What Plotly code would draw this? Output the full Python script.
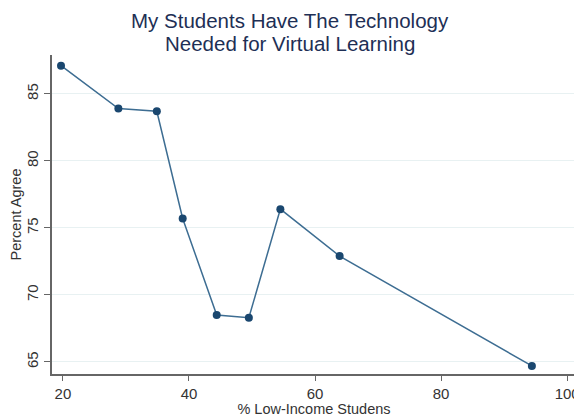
import plotly.graph_objects as go

low_income_pct = [19.7, 28.8, 34.9, 39.0, 44.4, 49.5, 54.5, 63.9, 94.4]
percent_agree = [87.1, 83.9, 83.7, 75.7, 68.5, 68.3, 76.4, 72.9, 64.7]

x_ticks = [20, 40, 60, 80, 100]
y_ticks = [65, 70, 75, 80, 85]

title_lines = ["My Students Have The Technology", "Needed for Virtual Learning"]

fig = go.Figure()
fig.add_trace(go.Scatter(
    x=low_income_pct, y=percent_agree, mode="lines+markers",
    line=dict(color="#3d6d92", width=1.5),
    marker=dict(color="#1a476f", size=8),
    showlegend=False,
))

font = "Liberation Sans, Arial, sans-serif"
W, H = 574, 409
L, R, T, B = 42, 2, 47, 43
pw = W - L - R
title_x = (283 - L) / pw

fig.update_layout(
    width=W, height=H,
    margin=dict(l=L, r=R, t=T, b=B),
    paper_bgcolor="white", plot_bgcolor="white",
    font=dict(family=font, color="#333333", size=15),
)
for line, shift in zip(title_lines, [35, 12]):
    fig.add_annotation(
        text=line, xref="paper", yref="paper", x=title_x, y=1,
        xanchor="center", yanchor="middle", yshift=shift, showarrow=False,
        font=dict(family=font, size=20.5, color="#1e2f55"),
    )

fig.update_xaxes(
    range=[18.27, 101.4], tickvals=x_ticks, ticks="outside", ticklen=5,
    tickcolor="#666666", showline=True, linecolor="#666666", linewidth=2,
    showgrid=False, zeroline=False, ticklabeloverflow="allow",
    tickfont=dict(size=15, color="#333333"),
    title=dict(text="% Low-Income Studens", font=dict(size=14.5, color="#333333"), standoff=3),
)
fig.update_yaxes(
    range=[64.1, 87.9], tickvals=y_ticks, ticks="outside", ticklen=6,
    tickcolor="#666666", showline=True, linecolor="#666666", linewidth=2,
    showgrid=True, gridcolor="#e8f1f2", gridwidth=1, zeroline=False,
    tickangle=-90,
    tickfont=dict(size=15, color="#333333"),
    title=dict(text="Percent Agree", font=dict(size=14.5, color="#333333"), standoff=4),
)

fig.write_html("out.html")
